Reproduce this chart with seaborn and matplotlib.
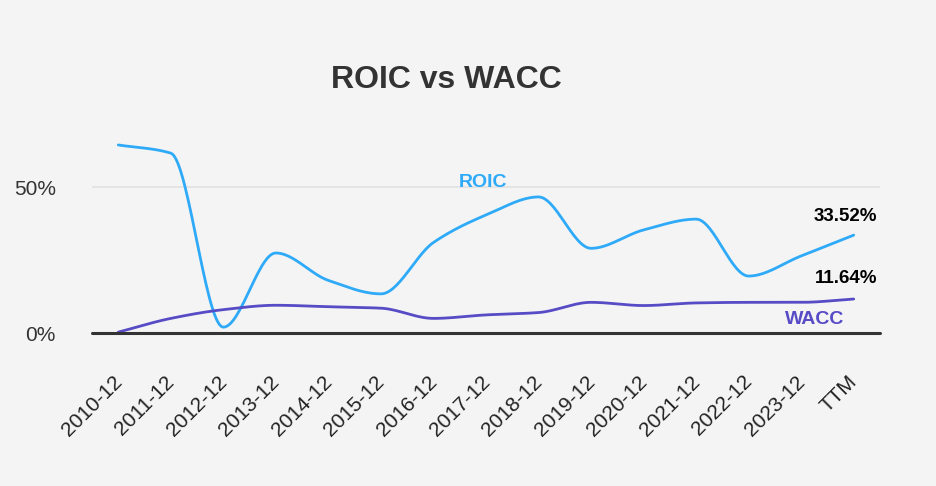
import numpy as np
import pandas as pd
import matplotlib
matplotlib.use("Agg")
import matplotlib.pyplot as plt
import matplotlib.transforms as mtransforms
import seaborn as sns

periods = ["2010-12", "2011-12", "2012-12", "2013-12", "2014-12", "2015-12", "2016-12",
           "2017-12", "2018-12", "2019-12", "2020-12", "2021-12", "2022-12", "2023-12", "TTM"]
roic = [64.4, 61.6, 2.0, 27.4, 18.0, 13.4, 31.0, 40.4, 46.6, 29.0, 35.3, 39.0, 19.5, 26.4, 33.52]
wacc = [0.3, 5.0, 8.0, 9.5, 9.0, 8.5, 5.0, 6.2, 7.0, 10.5, 9.4, 10.3, 10.5, 10.5, 11.64]
y_ticks = [0, 50]
y_tick_labels = ["0%", "50%"]

ROIC_C = "#2eaaf8"
WACC_C = "#574bc6"
BG = "#f4f4f4"


def monotone(xs, ys, n=30):
    xs = np.asarray(xs, float); ys = np.asarray(ys, float)
    h = np.diff(xs); d = np.diff(ys) / h
    m = np.zeros_like(ys)
    m[0] = d[0]; m[-1] = d[-1]
    for i in range(1, len(ys) - 1):
        if d[i - 1] * d[i] <= 0:
            m[i] = 0
        else:
            m[i] = 3 * (h[i - 1] + h[i]) / ((2 * h[i] + h[i - 1]) / d[i - 1] + (h[i] + 2 * h[i - 1]) / d[i])
    xo, yo = [], []
    for i in range(len(xs) - 1):
        t = np.linspace(0, 1, n, endpoint=False)
        h00 = 2 * t**3 - 3 * t**2 + 1; h10 = t**3 - 2 * t**2 + t
        h01 = -2 * t**3 + 3 * t**2; h11 = t**3 - t**2
        yo.append(h00 * ys[i] + h10 * h[i] * m[i] + h01 * ys[i + 1] + h11 * h[i] * m[i + 1])
        xo.append(xs[i] + t * h[i])
    xo.append([xs[-1]]); yo.append([ys[-1]])
    return np.concatenate(xo), np.concatenate(yo)


sns.set_theme(style="white")
plt.rcParams["font.family"] = ["Liberation Sans", "DejaVu Sans"]

fig = plt.figure(figsize=(9.37, 4.86), dpi=100, facecolor=BG)
ax = fig.add_axes([92 / 937, 1 - 333 / 486, (880 - 92) / 937, (333 - 114) / 486])
ax.set_facecolor(BG)

idx = np.arange(len(periods))
rx, ry = monotone(idx, roic)
wx, wy = monotone(idx, wacc)
df = pd.concat([
    pd.DataFrame({"x": rx, "y": ry, "s": "ROIC"}),
    pd.DataFrame({"x": wx, "y": wy, "s": "WACC"}),
])

ax.axhline(50, color="#e4e4e4", lw=1.5, zorder=0)
sns.lineplot(data=df, x="x", y="y", hue="s", palette={"ROIC": ROIC_C, "WACC": WACC_C},
             ax=ax, legend=False, lw=2, sort=False, estimator=None)
for l in ax.get_lines()[1:]:
    l.set_clip_on(False)
zl = ax.axhline(0, color="#333333", lw=2.2, zorder=5)
zl.set_clip_on(False)

ax.set_xlim(-0.5, 14.5)
ax.set_ylim(0, 75)
ax.set_xticks(idx)
ax.set_xticklabels(periods, rotation=45, ha="right", rotation_mode="anchor",
                   fontsize=15, color="#222222")
ax.set_yticks(y_ticks)
ax.set_yticklabels(y_tick_labels, fontsize=15, color="#333333")
ax.tick_params(axis="x", length=0, pad=28)
ax.tick_params(axis="y", length=0, pad=26)
shift = mtransforms.ScaledTranslation(-6 / 100, 0, fig.dpi_scale_trans)
for lab in ax.get_xticklabels():
    lab.set_transform(lab.get_transform() + shift)
for s in ax.spines.values():
    s.set_visible(False)
ax.set_xlabel(""); ax.set_ylabel("")

ax.text(6.95, 51.5, "ROIC", color=ROIC_C, fontsize=14, fontweight="bold", ha="center", va="center")
ax.text(13.25, 4.5, "WACC", color=WACC_C, fontsize=14, fontweight="bold", ha="center", va="center")
ax.text(13.85, roic[-1] + 6.5, f"{roic[-1]:.2f}%", color="black", fontsize=13.5,
        fontweight="bold", ha="center", va="center")
ax.text(13.85, wacc[-1] + 7.0, f"{wacc[-1]:.2f}%", color="black", fontsize=13.5,
        fontweight="bold", ha="center", va="center")

fig.text(446 / 937, 1 - 80 / 486, "ROIC vs WACC", fontsize=23, fontweight="bold",
         color="#333333", ha="center", va="center")

fig.savefig("out.png", dpi=100, facecolor=BG)
